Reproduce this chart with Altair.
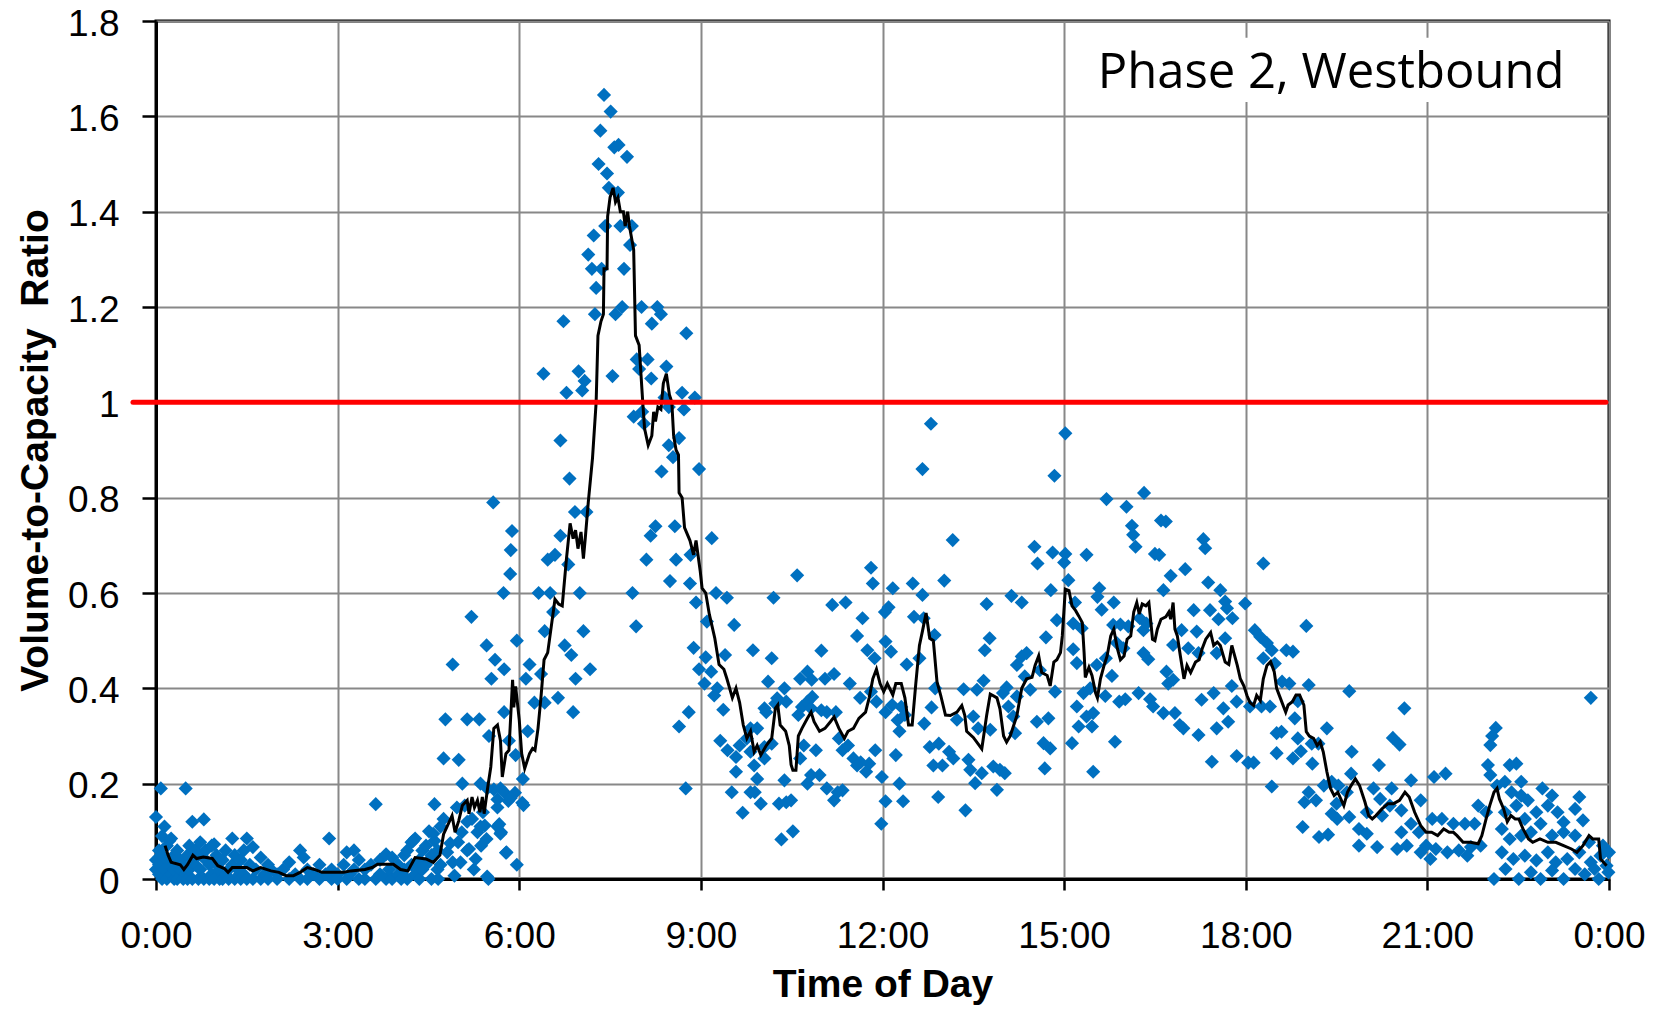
import altair as alt
import pandas as pd

# ---------------- data (hour of day, volume-to-capacity ratio) ----------------
night_pts = [
    (0.0,0.04),(0.0,0.02),(0.0,0.13),(0.05,0.06),(0.05,0.01),(0.05,0.03),(0.08,0.19),(0.1,0.0),(0.1,0.05),
    (0.1,0.09),(0.14,0.11),(0.14,0.02),(0.18,0.07),(0.18,0.0),(0.18,0.04),(0.22,0.03),(0.22,0.08),(0.25,0.085),
    (0.25,0.01),(0.3,0.05),(0.3,0.0),(0.3,0.02),(0.35,0.06),(0.35,0.0),(0.4,0.02),(0.4,0.04),(0.45,0.0),
    (0.45,0.03),(0.49,0.19),(0.49,0.01),(0.52,0.05),(0.52,0.0),(0.55,0.07),(0.55,0.02),(0.6,0.12),(0.6,0.0),
    (0.6,0.04),(0.65,0.03),(0.65,0.06),(0.7,0.0),(0.7,0.05),(0.73,0.077),(0.73,0.02),(0.79,0.125),(0.79,0.0),
    (0.82,0.04),(0.82,0.06),(0.88,0.0),(0.88,0.03),(0.92,0.07),(0.92,0.01),(0.96,0.073),(0.96,0.0),(1.0,0.03),
    (1.0,0.05),(1.05,0.0),(1.05,0.02),(1.1,0.04),(1.1,0.0),(1.15,0.06),(1.15,0.01),(1.2,0.02),(1.2,0.0),
    (1.26,0.085),(1.26,0.03),(1.3,0.0),(1.3,0.05),(1.35,0.02),(1.4,0.0),(1.4,0.04),(1.45,0.01),(1.45,0.06),
    (1.5,0.085),(1.5,0.0),(1.55,0.03),(1.6,0.067),(1.6,0.0),(1.65,0.02),(1.73,0.045),(1.73,0.0),(1.8,0.01),
    (1.85,0.0),(1.85,0.03),(1.9,0.02),(2.0,0.01),(2.0,0.0),(2.1,0.02),(2.2,0.0),(2.2,0.035),(2.3,0.01),
    (2.38,0.06),(2.38,0.0),(2.44,0.045),(2.5,0.02),(2.5,0.0),(2.6,0.01),(2.7,0.0),(2.7,0.03),(2.8,0.01),
    (2.86,0.085),(2.9,0.0),(2.9,0.02),(3.0,0.01),(3.0,0.0),(3.1,0.03),(3.15,0.056),(3.15,0.0),(3.2,0.01),
    (3.27,0.06),(3.27,0.02),(3.35,0.0),(3.35,0.04),(3.45,0.02),(3.45,0.0),(3.55,0.03),(3.63,0.157),(3.63,0.0),
    (3.7,0.04),(3.7,0.01),(3.8,0.052),(3.8,0.0),(3.85,0.02),(3.9,0.0),(3.9,0.045),(4.0,0.03),(4.0,0.01),
    (4.05,0.0),(4.1,0.05),(4.1,0.02),(4.15,0.06),(4.15,0.0),(4.22,0.077),(4.22,0.03),(4.28,0.085),(4.28,0.01),
    (4.35,0.04),(4.35,0.0),(4.4,0.06),(4.4,0.02),(4.46,0.03),(4.46,0.07),(4.51,0.10),(4.51,0.04),(4.55,0.05),
    (4.55,0.0),(4.6,0.157),(4.6,0.08),(4.65,0.06),(4.65,0.02),(4.7,0.11),(4.7,0.03),
]

am_pts = [
    (4.66,0.0),(4.75,0.126),(4.75,0.253),(4.78,0.335),(4.81,0.056),(4.9,0.035),(4.93,0.007),(4.99,0.077),
    (5.05,0.098),(5.1,0.154),(5.17,0.063),(5.22,0.126),(5.28,0.042),(5.31,0.098),(5.4,0.14),(5.43,0.112),
    (5.37,0.07),(5.46,0.084),(5.49,0.0),(5.58,0.188),(5.64,0.167),(5.67,0.115),(5.7,0.098),(5.76,0.181),
    (5.82,0.164),(5.93,0.181),(6.05,0.16),(5.79,0.056),(5.96,0.03),
    (6.68,0.92),(6.83,0.84),(5.57,0.79),(5.88,0.73),(5.86,0.69),(5.85,0.64),(5.74,0.60),(6.92,0.77),(7.11,0.77),
    (6.68,0.72),(6.47,0.67),(6.59,0.68),(6.81,0.66),(6.32,0.60),(6.51,0.60),(7.0,0.60),(6.56,0.56),(5.21,0.55),
    (5.96,0.50),(5.46,0.49),(6.42,0.52),(7.06,0.52),(4.9,0.45),(5.6,0.46),(5.75,0.44),(5.54,0.42),(6.17,0.45),
    (6.11,0.42),(6.36,0.43),(6.75,0.49),(6.86,0.47),(7.17,0.44),(6.93,0.42),(6.64,0.38),(6.42,0.37),(6.89,0.35),
    (6.25,0.37),(5.75,0.35),(5.14,0.335),(5.34,0.335),(5.5,0.30),(5.83,0.29),(6.14,0.31),(5.0,0.25),(5.94,0.26),
    (5.06,0.20),(5.36,0.20),(6.06,0.21),(4.97,0.15),(5.64,0.15),(5.86,0.17),(6.07,0.155),(5.47,0.19),(5.69,0.19),
    (5.14,0.12),(5.36,0.11),(5.64,0.11),(5.69,0.095),(4.58,0.095),(4.25,0.08),(4.86,0.075),(5.14,0.06),
    (5.78,0.055),(5.25,0.02),(5.03,0.035),(4.36,0.025),(5.47,0.005),(8.75,0.19),(8.64,0.32),(8.8,0.35),
    (7.89,0.97),(8.03,0.98),(8.06,0.955),(8.47,0.99),(8.72,0.985),(8.64,0.925),(8.47,0.91),(8.54,0.885),
    (8.97,0.86),(8.35,0.855),(8.25,0.74),(8.17,0.72),(8.57,0.74),(9.18,0.715),(8.1,0.67),(8.59,0.67),(8.83,0.68),
    (8.49,0.625),(8.82,0.62),(7.87,0.60),(9.25,0.60),(9.43,0.59),(8.92,0.58),(7.93,0.53),(9.1,0.54),(8.88,0.485),
    (9.08,0.465),(9.4,0.47),(8.97,0.44),(9.17,0.435),(9.06,0.41),(9.27,0.40),(9.22,0.385),(9.37,0.355),
    (9.32,0.29),(9.44,0.27),
]

peak_pts = [
    (7.40,1.645),(7.51,1.61),(7.34,1.57),(7.57,1.535),(7.64,1.54),(7.78,1.515),(7.31,1.50),(7.45,1.48),
    (7.48,1.45),(7.63,1.44),(7.23,1.35),(7.42,1.37),(7.67,1.37),(7.86,1.37),(7.14,1.31),(7.83,1.33),(7.2,1.28),
    (7.36,1.28),(7.73,1.28),(7.27,1.24),(7.25,1.185),(7.59,1.185),(7.7,1.2),(8.02,1.2),(8.28,1.2),(8.34,1.185),
    (8.19,1.165),(6.73,1.17),(8.76,1.145),(6.4,1.06),(6.98,1.065),(7.08,1.045),(7.04,1.025),(6.78,1.02),
    (7.54,1.055),(7.94,1.09),(8.12,1.09),(7.98,1.07),(8.18,1.05),(8.43,1.075),(8.69,1.02),(8.9,1.01),(8.4,1.01),
    (12.8,0.955),(12.66,0.86),
]

midday_pts = [
    (9.55,0.533),(10.2,0.59),(10.59,0.637),(9.86,0.48),(10.17,0.463),(10.99,0.479),(11.17,0.575),(11.39,0.58),
    (11.67,0.547),(11.81,0.653),(11.84,0.62),(12.17,0.61),(12.5,0.62),(12.66,0.596),(13.02,0.626),(12.04,0.56),
    (12.1,0.57),(12.52,0.55),(12.68,0.547),(11.58,0.51),(11.75,0.48),(11.87,0.463),(12.05,0.498),(12.14,0.477),
    (12.4,0.45),(12.61,0.463),(12.86,0.512),(12.87,0.4),(12.81,0.36),(12.69,0.326),(12.78,0.277),(12.93,0.284),
    (13.1,0.267),(12.99,0.238),(12.84,0.238),(12.92,0.172),(13.37,0.144),(12.25,0.333),(12.28,0.31),(12.22,0.26),
    (12.28,0.2),(12.34,0.163),(12.05,0.163),(11.99,0.214),(11.98,0.116),(11.73,0.225),(11.78,0.242),(11.64,0.245),
    (11.52,0.253),(11.34,0.27),(11.43,0.28),(11.58,0.238),(11.2,0.165),(11.26,0.182),(11.34,0.186),(11.08,0.19),
    (10.82,0.218),(10.76,0.2),(10.96,0.218),(10.9,0.27),(10.7,0.28),(10.64,0.253),(10.61,0.344),(10.67,0.361),
    (10.76,0.372),(10.82,0.358),(10.84,0.382),(10.64,0.42),(10.76,0.435),(10.83,0.418),(11.05,0.42),(11.2,0.43),
    (10.99,0.354),(11.08,0.35),(11.23,0.35),(11.28,0.295),(11.46,0.41),(11.63,0.38),(11.9,0.372),(11.81,0.393),
    (12.05,0.35),(12.16,0.365),(12.31,0.361),(12.37,0.344),(11.88,0.27),(10.38,0.4),(10.41,0.372),(10.26,0.379),
    (10.05,0.358),(10.08,0.35),(10.11,0.414),(10.23,0.368),(10.17,0.284),(10.05,0.253),(10.05,0.277),(9.93,0.316),
    (9.82,0.316),(9.76,0.295),(9.64,0.28),(9.58,0.256),(9.58,0.225),(9.82,0.267),(9.88,0.238),(9.93,0.21),
    (9.89,0.182),(9.82,0.182),(9.51,0.182),(9.69,0.139),(9.99,0.158),(10.29,0.158),(10.38,0.207),(10.41,0.161),
    (10.49,0.165),(10.33,0.083),(10.52,0.1),
]

pm_pts = [
    (15.02,0.935),(14.84,0.846),(15.70,0.797),(16.32,0.81),(16.03,0.781),(16.12,0.741),(16.14,0.722),(16.18,0.697),
    (16.6,0.752),(16.68,0.75),(17.30,0.713),(17.33,0.694),(13.16,0.711),(14.51,0.697),(14.56,0.662),(14.81,0.685),
    (15.02,0.682),(15.0,0.664),(15.37,0.68),(16.5,0.682),(16.57,0.68),(17.0,0.65),(16.76,0.636),(18.29,0.662),
    (15.07,0.627),(14.78,0.606),(16.64,0.606),(15.58,0.61),(15.55,0.592),(14.13,0.594),(14.3,0.58),(13.72,0.577),
    (15.82,0.58),(15.62,0.565),(15.18,0.58),(17.38,0.622),(17.58,0.606),(17.99,0.578),(17.66,0.582),(17.69,0.568),
    (17.78,0.547),(17.41,0.564),(17.14,0.564),(17.55,0.545),(14.88,0.543),(15.15,0.536),(15.29,0.526),(15.81,0.533),
    (15.93,0.534),(16.06,0.53),(16.25,0.547),(16.31,0.522),(16.36,0.536),(16.94,0.522),(17.19,0.519),(13.77,0.505),
    (14.7,0.507),(13.69,0.48),(15.87,0.495),(15.98,0.484),(16.8,0.491),(17.05,0.484),(17.66,0.505),(18.15,0.522),
    (18.24,0.508),(18.35,0.495),(18.43,0.48),(15.15,0.482),(14.38,0.474),(16.31,0.474),(16.39,0.461),(17.22,0.474),
    (17.52,0.474),(14.3,0.467),(14.22,0.449),(14.6,0.438),(14.35,0.425),(15.21,0.453),(15.54,0.449),(15.69,0.463),
    (16.69,0.435),(16.72,0.41),(16.8,0.418),(18.29,0.463),(18.48,0.452),(15.79,0.426),(13.34,0.398),(13.67,0.416),
    (13.56,0.397),(14.05,0.402),(14.22,0.383),(14.44,0.397),(14.85,0.393),(15.32,0.39),(15.43,0.4),(15.68,0.384),
    (15.91,0.372),(16.01,0.377),(16.23,0.39),(16.42,0.377),(16.47,0.362),(16.64,0.348),(16.83,0.348),(16.91,0.323),
    (16.97,0.316),(17.22,0.302),(17.47,0.39),(17.52,0.316),(17.71,0.33),(17.77,0.405),(17.85,0.372),(18.07,0.362),
    (18.26,0.362),(18.4,0.362),(17.63,0.358),(17.27,0.376),(13.99,0.39),(13.23,0.334),(13.5,0.341),(13.58,0.316),
    (13.78,0.313),(14.08,0.362),(14.16,0.341),(14.55,0.33),(14.74,0.337),(15.21,0.362),(15.24,0.32),(15.37,0.341),
    (15.46,0.32),(15.48,0.348),(13.17,0.253),(13.42,0.25),(13.45,0.229),(13.53,0.201),(13.64,0.222),(13.83,0.236),
    (13.89,0.187),(13.94,0.229),(14.02,0.222),(14.19,0.306),(14.66,0.285),(14.68,0.232),(14.77,0.274),(15.13,0.285),
    (15.48,0.225),(15.84,0.288),(17.44,0.246),(17.85,0.258),(18.04,0.244),(18.13,0.244),(18.43,0.194),(18.51,0.306),
    (18.51,0.264),
]

evening_pts = [
    (19.0,0.531),(19.71,0.394),(20.62,0.358),(23.7,0.38),(18.6,0.414),(18.72,0.41),(18.78,0.477),(18.67,0.48),
    (19.04,0.407),(18.86,0.373),(18.81,0.337),(18.59,0.309),(18.86,0.295),(19.34,0.316),(19.09,0.284),(19.2,0.284),
    (18.78,0.253),(18.91,0.268),(19.1,0.242),(19.75,0.267),(20.2,0.239),(20.43,0.296),(20.54,0.282),(19.74,0.221),
    (19.04,0.182),(18.97,0.161),(18.94,0.109),(19.16,0.165),(19.29,0.196),(19.42,0.204),(19.53,0.196),(19.67,0.182),
    (19.5,0.158),(19.42,0.137),(19.51,0.126),(19.71,0.13),(19.36,0.093),(19.21,0.088),(19.87,0.105),(20.0,0.095),
    (19.87,0.07),(20.17,0.067),(20.11,0.19),(20.0,0.14),(20.25,0.133),(20.22,0.168),(20.38,0.154),(20.41,0.19),
    (20.57,0.144),(20.57,0.098),(20.5,0.063),(20.66,0.07),(20.73,0.207),(20.73,0.116),(20.86,0.098),(20.89,0.165),
    (20.98,0.07),(20.89,0.056),(21.11,0.214),(21.3,0.221),(21.08,0.126),(21.24,0.126),(21.43,0.116),(21.62,0.116),
    (21.78,0.116),(21.14,0.063),(21.33,0.056),(21.52,0.06),(21.72,0.067),(21.88,0.07),(21.05,0.042),(21.66,0.049),
    (22.13,0.317),(22.04,0.281),(22.0,0.239),(22.07,0.3),(22.36,0.239),(22.47,0.242),(22.04,0.218),(22.15,0.196),
    (22.28,0.204),(22.55,0.204),(22.9,0.19),(23.06,0.175),(23.51,0.172),(23.44,0.147),(22.39,0.182),(22.55,0.175),
    (21.84,0.154),(21.97,0.14),(22.28,0.14),(22.47,0.154),(22.66,0.165),(22.8,0.14),(22.99,0.154),(23.15,0.14),
    (23.25,0.119),(23.57,0.123),(22.61,0.126),(22.87,0.116),(22.71,0.098),(22.23,0.105),(22.36,0.084),(22.55,0.091),
    (23.06,0.091),(23.25,0.098),(23.44,0.091),(23.67,0.077),(23.9,0.07),(22.23,0.056),(22.42,0.042),(22.61,0.049),
    (22.8,0.039),(22.99,0.056),(23.12,0.035),(23.31,0.042),(23.51,0.056),(23.7,0.035),(23.86,0.049),(23.96,0.028),
    (24.0,0.056),(22.1,0.0),(22.51,0.0),(22.87,0.0),(23.25,0.0),(23.6,0.01),(23.83,0.0),(23.99,0.014),(22.29,0.021),
    (22.71,0.014),(23.06,0.018),(23.44,0.021),(23.76,0.021),
]

trend_night = [
    (0.15,0.07),(0.2,0.05),(0.25,0.035),(0.4,0.03),(0.46,0.02),(0.52,0.03),(0.61,0.05),(0.67,0.043),(0.78,0.046),
    (0.93,0.043),(1.02,0.028),(1.13,0.022),(1.19,0.014),(1.26,0.024),(1.5,0.024),(1.6,0.017),(1.73,0.024),
    (1.9,0.017),(2.03,0.014),(2.15,0.007),(2.27,0.007),(2.38,0.014),(2.5,0.024),(2.62,0.02),(2.74,0.014),
    (3.1,0.014),(3.22,0.017),(3.45,0.02),(3.57,0.024),(3.66,0.031),(3.92,0.031),(4.04,0.02),(4.16,0.017),
    (4.28,0.045),(4.46,0.042),(4.58,0.035),(4.69,0.05),
]

trend_am = [
    (4.75,0.094),(4.8,0.108),(4.89,0.133),(4.94,0.098),(5.0,0.122),(5.06,0.154),(5.14,0.165),(5.17,0.137),
    (5.22,0.172),(5.26,0.15),(5.31,0.165),(5.35,0.14),(5.39,0.172),(5.42,0.137),(5.48,0.193),(5.53,0.235),
    (5.58,0.316),(5.64,0.323),(5.69,0.29),(5.72,0.214),(5.78,0.263),(5.83,0.27),(5.89,0.418),(5.91,0.36),
    (5.94,0.404),(6.0,0.334),(6.04,0.263),(6.09,0.232),(6.17,0.263),(6.22,0.274),(6.26,0.27),(6.31,0.316),
    (6.36,0.383),(6.41,0.46),(6.47,0.475),(6.54,0.54),(6.59,0.587),(6.65,0.577),(6.71,0.573),(6.78,0.672),
    (6.84,0.746),(6.89,0.714),(6.93,0.732),(6.97,0.693),(7.02,0.728),(7.06,0.672),(7.09,0.714),(7.14,0.79),
    (7.21,0.883),(7.27,1.0),(7.30,1.14),(7.35,1.17),(7.39,1.185),(7.40,1.28),(7.45,1.28),(7.46,1.39),(7.5,1.43),
    (7.55,1.45),(7.59,1.42),(7.63,1.43),(7.67,1.40),(7.72,1.40),(7.75,1.37),(7.79,1.40),(7.82,1.37),(7.89,1.32),
    (7.92,1.14),(7.98,1.12),(8.04,1.0),(8.07,0.945),(8.13,0.91),(8.19,0.93),(8.22,0.98),(8.25,0.96),(8.29,0.99),
    (8.34,0.985),(8.38,1.04),(8.43,1.06),(8.48,1.016),(8.52,1.0),(8.55,0.93),(8.59,0.9),(8.63,0.89),(8.64,0.81),
    (8.69,0.80),(8.73,0.737),(8.82,0.71),(8.88,0.68),(8.92,0.71),(8.99,0.645),(9.02,0.61),(9.08,0.60),
]

trend_mid = [
    (9.14,0.555),(9.23,0.505),(9.30,0.45),(9.38,0.44),(9.43,0.42),(9.52,0.38),(9.58,0.40),(9.64,0.37),
    (9.70,0.323),(9.76,0.295),(9.82,0.31),(9.88,0.267),(9.93,0.28),(9.99,0.26),(10.08,0.28),(10.17,0.295),
    (10.23,0.358),(10.27,0.365),(10.31,0.323),(10.40,0.31),(10.46,0.28),(10.49,0.24),(10.52,0.228),(10.57,0.228),
    (10.61,0.30),(10.67,0.316),(10.76,0.337),(10.82,0.35),(10.87,0.33),(10.96,0.31),(11.05,0.316),(11.14,0.33),
    (11.20,0.34),(11.28,0.316),(11.37,0.295),(11.43,0.31),(11.52,0.316),(11.61,0.337),(11.72,0.35),(11.78,0.38),
    (11.84,0.42),(11.90,0.44),(11.96,0.41),(12.02,0.393),(12.08,0.41),(12.17,0.386),(12.22,0.41),(12.31,0.41),
    (12.37,0.38),(12.43,0.323),(12.49,0.323),(12.55,0.41),(12.61,0.49),(12.66,0.52),(12.72,0.558),(12.78,0.505),
    (12.84,0.50),(12.90,0.414),(12.96,0.386),(13.04,0.344),
]

trend_pm = [
    (13.12,0.343),(13.23,0.35),(13.31,0.364),(13.36,0.343),(13.39,0.31),(13.5,0.297),(13.64,0.273),(13.72,0.343),
    (13.78,0.388),(13.89,0.38),(13.94,0.357),(14.0,0.30),(14.05,0.287),(14.11,0.30),(14.22,0.343),(14.30,0.40),
    (14.38,0.42),(14.47,0.423),(14.52,0.448),(14.58,0.468),(14.63,0.433),(14.72,0.427),(14.77,0.405),(14.83,0.455),
    (14.88,0.46),(14.94,0.475),(14.97,0.51),(15.02,0.608),(15.08,0.605),(15.13,0.573),(15.19,0.563),(15.24,0.552),
    (15.30,0.538),(15.33,0.475),(15.35,0.423),(15.41,0.444),(15.46,0.427),(15.52,0.39),(15.55,0.38),(15.60,0.42),
    (15.66,0.448),(15.71,0.468),(15.77,0.51),(15.82,0.524),(15.88,0.483),(15.93,0.46),(15.99,0.468),(16.04,0.503),
    (16.10,0.51),(16.15,0.56),(16.20,0.58),(16.24,0.556),(16.29,0.577),(16.35,0.573),(16.40,0.58),(16.46,0.503),
    (16.50,0.50),(16.54,0.524),(16.60,0.545),(16.68,0.55),(16.73,0.56),(16.76,0.545),(16.80,0.58),(16.83,0.524),
    (16.87,0.51),(16.92,0.468),(16.98,0.42),(17.03,0.448),(17.09,0.433),(17.17,0.455),(17.23,0.46),(17.28,0.483),
    (17.34,0.503),(17.42,0.517),(17.47,0.49),(17.53,0.497),(17.58,0.49),(17.66,0.455),(17.72,0.45),(17.77,0.49),
    (17.86,0.448),(17.91,0.42),(17.97,0.405),(18.02,0.385),(18.07,0.37),(18.13,0.364),(18.18,0.385),(18.24,0.374),
    (18.29,0.42),(18.35,0.448),
]

trend_eve = [
    (18.41,0.456),(18.47,0.435),(18.51,0.40),(18.57,0.38),(18.66,0.35),(18.70,0.365),(18.77,0.372),(18.83,0.386),
    (18.89,0.386),(18.96,0.365),(19.00,0.309),(19.05,0.30),(19.12,0.295),(19.18,0.28),(19.23,0.288),(19.28,0.267),
    (19.34,0.225),(19.40,0.19),(19.46,0.175),(19.52,0.182),(19.62,0.154),(19.68,0.182),(19.74,0.196),(19.81,0.21),
    (19.88,0.196),(19.97,0.161),(20.03,0.133),(20.09,0.126),(20.15,0.133),(20.25,0.147),(20.35,0.158),(20.44,0.158),
    (20.54,0.165),(20.63,0.182),(20.70,0.172),(20.79,0.14),(20.89,0.112),(20.98,0.098),(21.07,0.098),(21.17,0.091),
    (21.27,0.105),(21.36,0.098),(21.43,0.098),(21.49,0.091),(21.59,0.077),(21.71,0.077),(21.84,0.074),(21.90,0.091),
    (21.97,0.126),(22.03,0.154),(22.10,0.182),(22.15,0.19),(22.19,0.168),(22.26,0.147),(22.32,0.12),(22.38,0.133),
    (22.45,0.126),(22.51,0.126),(22.58,0.105),(22.67,0.084),(22.74,0.077),(22.86,0.084),(22.99,0.077),(23.12,0.077),
    (23.25,0.07),(23.38,0.063),(23.47,0.056),(23.57,0.07),(23.67,0.091),(23.73,0.084),(23.83,0.084),(23.86,0.042),
    (23.96,0.028),
]

capacity_ratio = 1.0
threshold_span = [-0.38, 23.95]

label_text = "Phase 2, Westbound"
label_box = {"x0": 15.35, "x1": 23.85, "y0": 1.63, "y1": 1.765, "tx": 19.41, "ty": 1.69}

x_ticks = [0, 3, 6, 9, 12, 15, 18, 21, 24]
y_ticks = [0, 0.2, 0.4, 0.6, 0.8, 1.0, 1.2, 1.4, 1.6, 1.8]

# ---------------- frames ----------------
scatter_df = pd.DataFrame(night_pts + am_pts + peak_pts + midday_pts + pm_pts + evening_pts,
                          columns=["hour", "vc"])
trend_df = pd.DataFrame(trend_night + trend_am + trend_mid + trend_pm + trend_eve, columns=["hour", "vc"])
trend_df["idx"] = range(len(trend_df))
rule_df = pd.DataFrame({"hour": [threshold_span[0]], "hour2": [threshold_span[1]], "vc": [capacity_ratio]})
box_df = pd.DataFrame({"hour": [label_box["x0"]], "hour2": [label_box["x1"]],
                       "vc": [label_box["y0"]], "vc2": [label_box["y1"]]})
text_df = pd.DataFrame({"hour": [label_box["tx"]], "vc": [label_box["ty"]], "t": [label_text]})

xscale = alt.Scale(domain=[0, 24], nice=False, zero=False)
yscale = alt.Scale(domain=[0, 1.8], nice=False)

xaxis = alt.Axis(values=x_ticks, title="Time of Day", labelFlush=False,
                 labelExpr="datum.value == 24 ? '0:00' : datum.value + ':00'")
yaxis = alt.Axis(values=y_ticks, title="Volume-to-Capacity\u00a0 Ratio", format="~g",
                 labelFlush=False, labelOffset=3)


def X(field="hour"):
    return alt.X(f"{field}:Q", scale=xscale, axis=xaxis)


def Y(field="vc"):
    return alt.Y(f"{field}:Q", scale=yscale, axis=yaxis)


points = alt.Chart(scatter_df).mark_point(
    shape="diamond", filled=True, size=200, color="#0070C0", opacity=1, strokeWidth=0
).encode(x=X(), y=Y())

line = alt.Chart(trend_df).mark_line(color="black", strokeWidth=3).encode(
    x=X(), y=Y(), order="idx:Q")

rule = alt.Chart(rule_df).mark_rule(color="#FF0000", strokeWidth=5, strokeCap="round", clip=False).encode(
    x=X(), x2="hour2:Q", y=Y())

box = alt.Chart(box_df).mark_rect(color="white").encode(x=X(), x2="hour2:Q", y=Y(), y2="vc2:Q")

label = alt.Chart(text_df).mark_text(font="Open Sans", fontSize=49, color="black",
                                     align="center", baseline="middle").encode(x=X(), y=Y(), text="t:N")

chart = alt.layer(points, line, rule, box, label).properties(
    width=1453, height=858,
    autosize=alt.AutoSizeParams(type="none"),
    padding={"left": 148, "top": 13, "right": 50, "bottom": 127},
).configure_axis(
    gridColor="#888888", gridWidth=2, gridOpacity=1,
    domainColor="black", domainWidth=3,
    tickColor="black", tickWidth=2.5,
    labelFont="Liberation Sans", labelFontSize=37, labelColor="black",
    titleFont="Liberation Sans", titleFontSize=39, titleFontWeight="bold", titleColor="black",
).configure_axisX(
    tickSize=11, labelPadding=28, titlePadding=11,
).configure_axisY(
    tickSize=14, labelPadding=23, titlePadding=12,
).configure_view(stroke="black", strokeWidth=3)

chart.save("out.html", embed_options={"renderer": "svg", "actions": False})
